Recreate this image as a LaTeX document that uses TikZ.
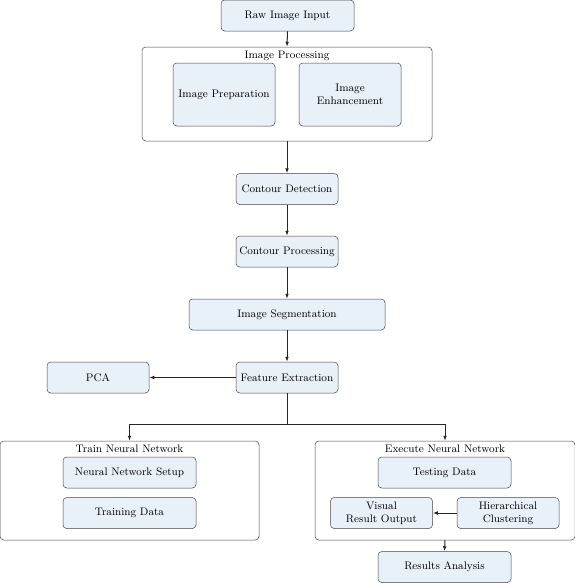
\documentclass[tikz,border=0pt]{standalone}
\usetikzlibrary{arrows.meta}

\definecolor{boxfill}{HTML}{E8F0F8}
\definecolor{boxline}{HTML}{444444}

\begin{document}
\begin{tikzpicture}
[
	x=0.8pt, y=-0.8pt,
	stepbox/.style={rounded corners=3pt, draw=boxline, fill=boxfill, align=center,
		minimum width=81.6pt, minimum height=24.8pt, inner sep=2pt,
		font=\fontsize{8.7pt}{10.5pt}\selectfont},
	widebox/.style={stepbox, minimum width=106.4pt},
	tallbox/.style={stepbox, minimum height=50.4pt},
	group/.style={rounded corners=3pt, draw=boxline, fill=white, inner sep=0pt},
	grouptitle/.style={anchor=north, inner sep=1pt, font=\fontsize{8.7pt}{10.5pt}\selectfont},
	arr/.style={-{Latex[length=4pt,width=3pt]}, thick, black!85}
]
	\useasboundingbox (0,0) rectangle (575,583);

	% containers
	\node[group, minimum width=232pt, minimum height=75.2pt] at (287,94) (improc) {};
	\node[grouptitle] at (287,49.5) (improctitle) {Image Processing};
	\node[group, minimum width=207.2pt, minimum height=79.2pt] at (129.5,490.5) (train) {};
	\node[grouptitle] at (129.5,443.5) (traintitle) {Train Neural Network};
	\node[group, minimum width=208pt, minimum height=79.2pt] at (445,490.5) (exec) {};
	\node[grouptitle] at (445,443.5) (exectitle) {Execute Neural Network};

	% main column
	\node[widebox] at (287.5,15.5) (raw) {Raw Image Input};
	\node[tallbox] at (224,94.5) (prep) {Image Preparation};
	\node[tallbox] at (350,94.5) (enh) {Image\\Enhancement};
	\node[stepbox] at (287,189) (cdet) {Contour Detection};
	\node[stepbox] at (287,251.5) (cproc) {Contour Processing};
	\node[stepbox, minimum width=156.8pt] at (287,314.5) (seg) {Image Segmentation};
	\node[stepbox] at (287,377.5) (feat) {Feature Extraction};
	\node[stepbox] at (98,377.5) (pca) {PCA};

	% training side
	\node[widebox] at (129.5,472.5) (nnsetup) {Neural Network Setup};
	\node[widebox] at (129.5,513) (traindata) {Training Data};

	% execution side
	\node[widebox] at (444.5,472.5) (testdata) {Testing Data};
	\node[stepbox] at (381.5,513) (visual) {Visual\\Result Output};
	\node[stepbox] at (508,513) (hier) {Hierarchical\\Clustering};
	\node[widebox] at (444.5,567) (results) {Results Analysis};

	% connectors
	\draw[arr] (raw.south) -- (improc.north);
	\draw[arr] (improc.south) -- (cdet.north);
	\draw[arr] (cdet) -- (cproc);
	\draw[arr] (cproc) -- (seg);
	\draw[arr] (seg) -- (feat);
	\draw[arr] (feat) -- (pca);
	\coordinate (split) at (287,424);
	\draw[thick, black!85] (feat.south) -- (split);
	\draw[arr] (split) -| (train.north);
	\draw[arr] (split) -| (exec.north);
	\draw[arr] (hier) -- (visual);
	\draw[arr] (exec.south) -- (results.north);

\end{tikzpicture}
\end{document}
